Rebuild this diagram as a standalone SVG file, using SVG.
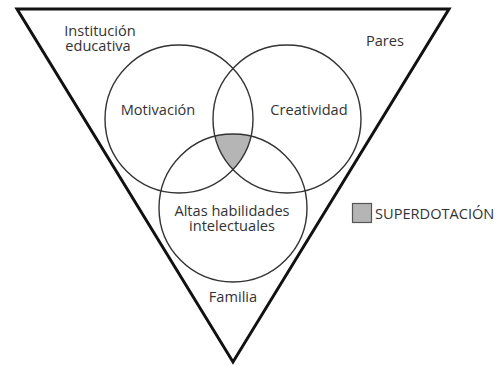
<svg xmlns="http://www.w3.org/2000/svg" width="501" height="366" viewBox="0 0 501 366">
<style>
.bg{fill:#ffffff}
.tri{fill:none;stroke:#111;stroke-width:3;stroke-linejoin:miter}
.circ{fill:none;stroke:#333;stroke-width:1.4}
.shade{fill:#b5b5b5;stroke:none}
.lbl{font-family:"Open Sans","Noto Sans","Liberation Sans",sans-serif;font-size:14.6px;fill:#333;text-anchor:middle}
.leg{font-family:"Open Sans","Noto Sans","Liberation Sans",sans-serif;font-size:14.6px;fill:#333}
.legbox{fill:#b5b5b5;stroke:#555;stroke-width:1.2}
</style>
<rect class="bg" x="0" y="0" width="501" height="366"/>
<g id="context">
  <polygon class="tri" points="17,9 449,9 233,362"/>
  <text class="lbl" x="100" y="35.5">Institución<tspan x="98" dy="15">educativa</tspan></text>
  <text class="lbl" x="385" y="46">Pares</text>
  <text class="lbl" x="233" y="302">Familia</text>
</g>
<g id="superdotacion-area">
  <path class="shade" d="M215.03,136.2 A74,74 0 0,1 250.97,136.2 A74,74 0 0,1 233,169.6 A74,74 0 0,1 215.03,136.2 Z"/>
</g>
<g id="motivacion">
  <circle class="circ" cx="179" cy="119" r="74"/>
  <text class="lbl" x="158" y="115">Motivación</text>
</g>
<g id="creatividad">
  <circle class="circ" cx="287" cy="119" r="74"/>
  <text class="lbl" x="309" y="115">Creatividad</text>
</g>
<g id="altas-habilidades">
  <circle class="circ" cx="233" cy="208" r="74"/>
  <text class="lbl" x="232" y="215.5">Altas habilidades<tspan x="232" dy="15">intelectuales</tspan></text>
</g>
<g id="legend">
  <rect class="legbox" x="352.5" y="203.5" width="19" height="19"/>
  <text class="leg" x="375" y="219">SUPERDOTACIÓN</text>
</g>
<g id="connectors"></g>
</svg>
